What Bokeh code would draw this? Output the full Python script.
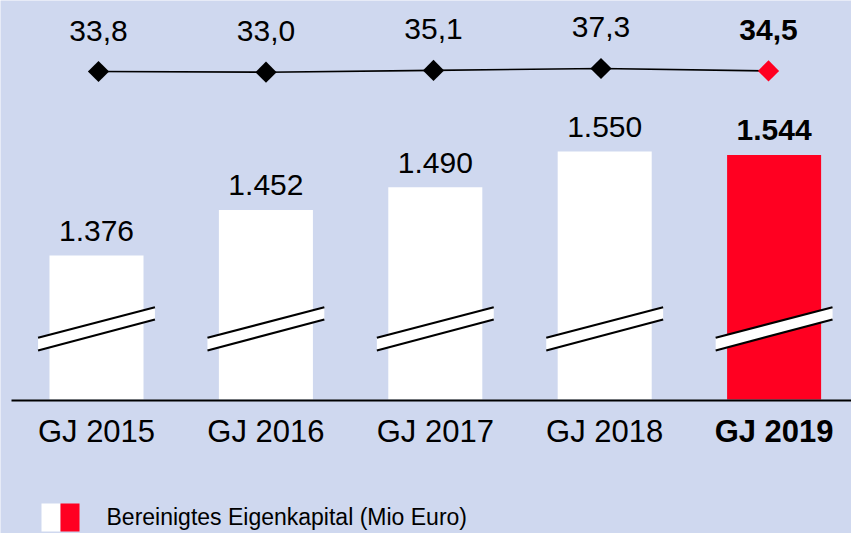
import math
from bokeh.plotting import figure
from bokeh.models import ColumnDataSource, Range1d
from bokeh.core.properties import value
from bokeh.embed import file_html
from bokeh.resources import INLINE

# ---- data ----
years = ["GJ 2015", "GJ 2016", "GJ 2017", "GJ 2018", "GJ 2019"]
equity = [1376, 1452, 1490, 1550, 1544]          # Mio Euro
ratio = [33.8, 33.0, 35.1, 37.3, 34.5]           # Quote
legend_text = "Bereinigtes Eigenkapital (Mio Euro)"
highlight = 4                                     # index of current year

# ---- style / layout ----
W, H = 851, 533
BG = "#CFD8EF"
RED = "#FF0021"
FONT = value("Liberation Sans")
TFIX = -12.0                           # svg baseline correction (px)

X0, STEP = 96.0, 169.4                 # px of first bar centre, px per category
LX0, LSTEP = 98.0, 167.5               # px layout of the ratio line
BAR_W = 0.555
Y_BOT, Y_TOP = 911.5, 1802.1           # broken value axis
BASE = 1135.4                          # value at the axis line
PCT_BOT, PCT_TOP = -503.4, 116.37      # secondary scale for the ratio line

idx = list(range(len(years)))
bar_colors = [RED if i == highlight else "white" for i in idx]
dia_colors = [RED if i == highlight else "black" for i in idx]
styles = ["bold" if i == highlight else "normal" for i in idx]

src = ColumnDataSource(dict(
    x=idx, eq=equity, pct=ratio, year=years,
    eq_lbl=[f"{v:,}".replace(",", ".") for v in equity],
    pct_lbl=[f"{v:.1f}".replace(".", ",") for v in ratio],
    bar_c=bar_colors, dia_c=dia_colors, st=styles,
))

p = figure(width=W, height=H, output_backend="svg", toolbar_location=None,
           x_range=Range1d(-X0 / STEP, (W - X0) / STEP),
           y_range=Range1d(Y_BOT, Y_TOP),
           min_border=0, min_border_left=0, min_border_right=0,
           min_border_top=0, min_border_bottom=0)
p.extra_x_ranges = {"px": Range1d(0, W),
                    "line": Range1d(-LX0 / LSTEP, (W - LX0) / LSTEP)}
p.extra_y_ranges = {"px": Range1d(H, 0), "pct": Range1d(PCT_BOT, PCT_TOP)}
p.xaxis.visible = False
p.yaxis.visible = False
p.xgrid.visible = False
p.ygrid.visible = False
p.outline_line_color = None
p.background_fill_color = BG
p.border_fill_color = BG

# bars
p.vbar(x="x", top="eq", bottom=BASE, width=BAR_W, source=src,
       fill_color="bar_c", line_color=None)

# axis-break marks
half = 0.345
up_l, up_r, lo_l, lo_r = 337.3, 306.7, 350.0, 319.0
bx = [[i - half, i - half, i + half, i + half] for i in idx]
by = [[lo_l, up_l, up_r, lo_r] for _ in idx]
p.patches(bx, by, y_range_name="px", fill_color="white", line_color=None)
lx = [[i - half, i + half] for i in idx] * 2
ly = [[up_l, up_r] for _ in idx] + [[lo_l, lo_r] for _ in idx]
p.multi_line(lx, ly, y_range_name="px", line_color="black", line_width=2.2)

# axis line
p.segment(x0=[11], y0=[400], x1=[W], y1=[400], x_range_name="px",
          y_range_name="px", line_color="black", line_width=2.2)

# value labels
p.text(x="x", y="eq", text="eq_lbl", source=src, text_font=FONT,
       text_font_size="30px", text_font_style="st", text_color="black",
       text_align="center", text_baseline="alphabetic", y_offset=-12.7 + TFIX)

# category labels
p.text(x="x", y=BASE, text="year", source=src, text_font=FONT,
       text_font_size="31px", text_font_style="st", text_color="black",
       text_align="center", text_baseline="alphabetic", y_offset=44.3 + TFIX)

# ratio line
p.line(x="x", y="pct", source=src, x_range_name="line", y_range_name="pct",
       line_color="black", line_width=1.6)
p.scatter(x="x", y="pct", source=src, x_range_name="line", y_range_name="pct",
          marker="square", angle=math.pi / 4, size=15, fill_color="dia_c",
          line_color=None)
p.text(x="x", y="pct", text="pct_lbl", source=src, x_range_name="line",
       y_range_name="pct", text_font=FONT, text_font_size="30px",
       text_font_style="st", text_color="black", text_align="center",
       text_baseline="alphabetic", y_offset=-29 + TFIX)

# legend
p.quad(left=[41, 60], right=[60, 79], top=[503, 503], bottom=[531, 531],
       x_range_name="px", y_range_name="px",
       fill_color=["white", RED], line_color=None)
p.text(x=[106], y=[526.5], text=[legend_text], x_range_name="px",
       y_range_name="px", text_font=FONT, text_font_size="23px",
       text_color="black", text_align="left", text_baseline="alphabetic",
       y_offset=TFIX * 0.8)

open("out.html", "w").write(file_html(p, INLINE))
